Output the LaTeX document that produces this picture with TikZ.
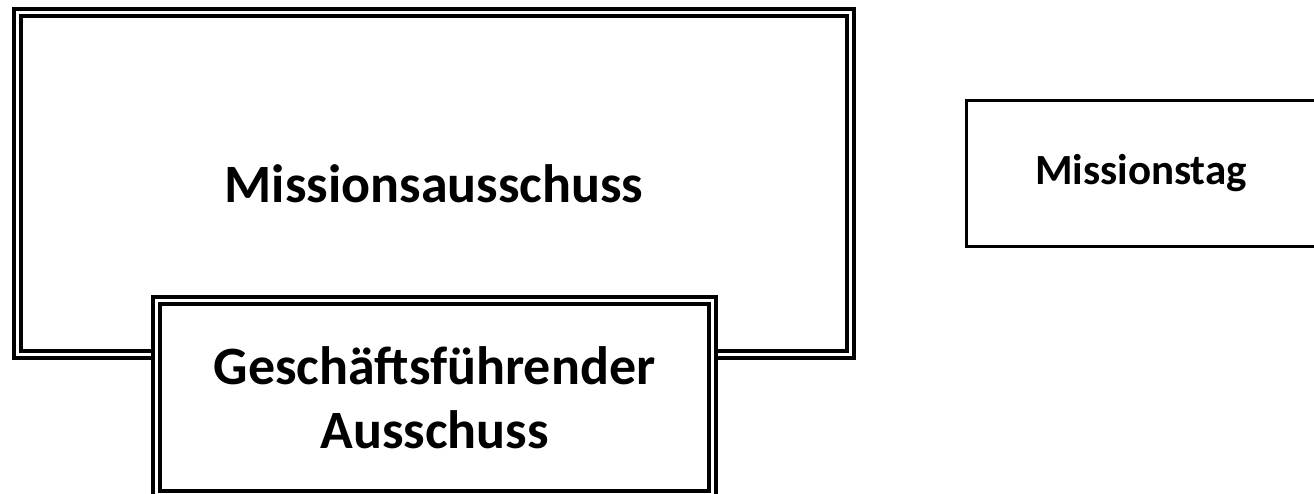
\documentclass[tikz,border=0pt]{standalone}
\usepackage{fontspec}
\setmainfont{Carlito}
\usepackage{tikz}
\usetikzlibrary{positioning}
\tikzstyle{outerbox} = [rectangle, draw=black, double, double distance=3pt, line width=4pt, text centered, inner sep=0pt]
\tikzstyle{innerbox} = [rectangle, draw=black, fill=white, double, double distance=3pt, line width=4pt, align=center, inner sep=0pt]
\tikzstyle{plainbox} = [rectangle, draw=black, line width=3pt, text centered, inner sep=0pt]

\begin{document}
\begin{tikzpicture}[x=1pt, y=1pt]
		\useasboundingbox (0,0) rectangle (1314,494);
		\fill[white] (0,0) rectangle (1314,494);
		\node (Missionsausschuss)[outerbox, minimum width=833pt, minimum height=342pt, font=\fontsize{54}{64}\selectfont\bfseries] at (434,310) {Missionsausschuss};
		\node (Geschaeftsfuehrender)[innerbox, minimum width=556pt, minimum height=194pt, font=\fontsize{54}{64}\selectfont\bfseries] at (434.5,96) {Geschäftsführender\\Ausschuss};
		\node (Missionstag)[plainbox, minimum width=350pt, minimum height=146pt, font=\fontsize{43}{52}\selectfont\bfseries] at (1141,320.5) {Missionstag};
	\end{tikzpicture}
\end{document}
